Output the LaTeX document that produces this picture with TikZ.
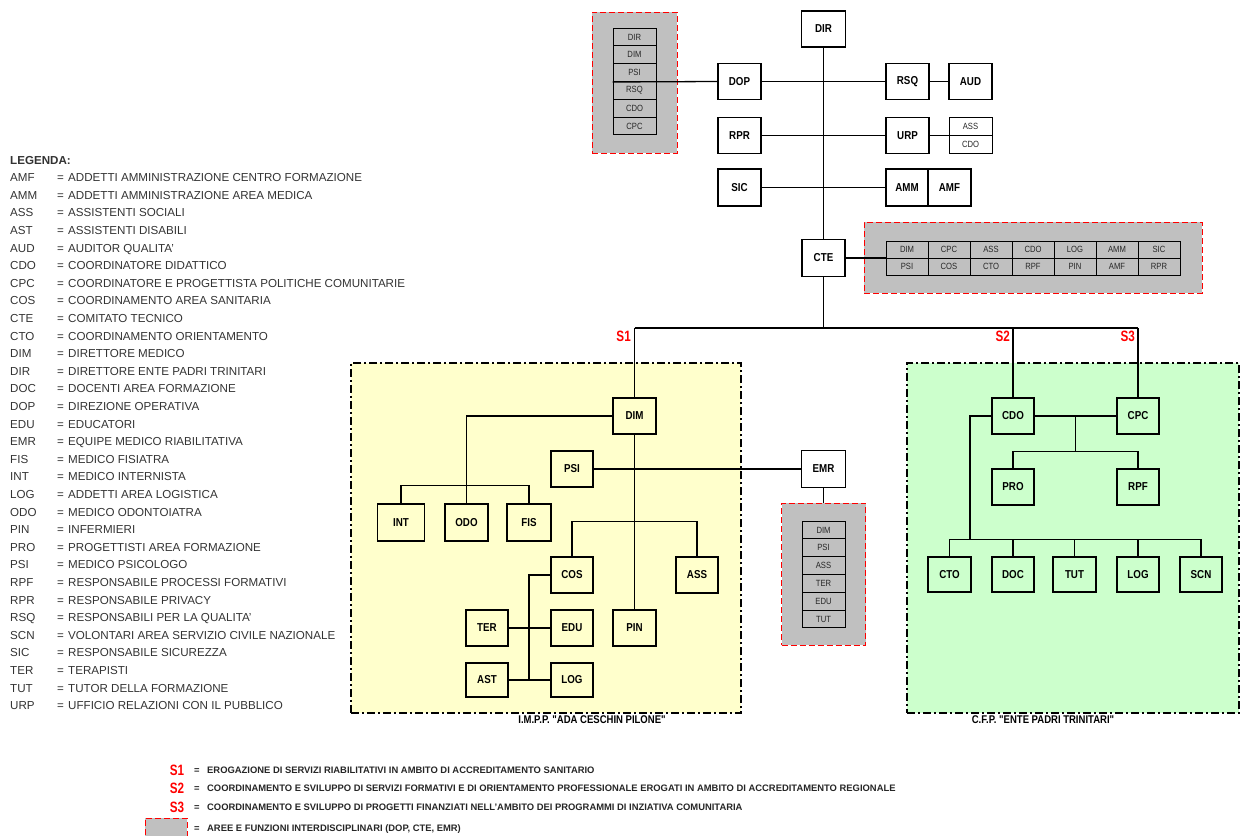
\documentclass[tikz,border=0pt]{standalone}
\usepackage{fontspec}
\setmainfont{Liberation Sans}
\newfontfamily\narrowf[FakeStretch=0.85]{Liberation Sans}
\newfontfamily\slimf[FakeStretch=0.78]{Liberation Sans}
\usetikzlibrary{calc}
\definecolor{areagray}{HTML}{C0C0C0}
\definecolor{yelfill}{HTML}{FFFFCC}
\definecolor{grnfill}{HTML}{CCFFCC}
\definecolor{sred}{HTML}{FF0000}
\newcommand\bxfont{\narrowf\bfseries\fontsize{11.5}{13}\selectfont}
\newcommand\clfont{\narrowf\fontsize{9}{10}\selectfont}
\newcommand\lgfont{\fontsize{11.6}{13}\selectfont}
\newcommand\slfont{\slimf\bfseries\fontsize{15}{16}\selectfont}
\newcommand\btfont{\bfseries\fontsize{9.4}{10}\selectfont}
\newcommand\alfont{\narrowf\bfseries\fontsize{11.2}{12}\selectfont}
\begin{document}
\begin{tikzpicture}[x=1pt,y=-1pt,
  box/.style={draw, line width=1.3pt, minimum width=43pt, minimum height=36pt, inner sep=0pt, font=\bxfont},
  cell/.style={draw, line width=1pt, minimum width=43pt, minimum height=17.8pt, inner sep=0pt, font=\clfont, text=black!85},
  gcell/.style={draw, line width=1pt, minimum width=42pt, minimum height=17pt, inner sep=0pt, font=\clfont, text=black!85},
  redarea/.style={draw=sred, dash pattern=on 6pt off 3pt, line width=1pt, fill=areagray, inner sep=0pt},
  orgarea/.style={draw=black, dash pattern=on 8pt off 3pt on 2pt off 3pt, line width=1.5pt, inner sep=0pt},
  conn/.style={draw, line width=1.3pt},
  slab/.style={text=sred, font=\slfont, inner sep=0pt},
  legab/.style={anchor=base west, inner sep=0pt, font=\lgfont, text=black!80},
  legtx/.style={anchor=base west, inner sep=0pt, font=\lgfont, text=black!80},
  bttx/.style={anchor=base west, inner sep=0pt, font=\btfont, text=black!85},
  arealab/.style={inner sep=0pt, font=\alfont}
]
\useasboundingbox (0,0) rectangle (1241,835);

% ---------- areas ----------
\node[redarea, minimum width=85pt, minimum height=141pt] (area1) at (634.5,82.5) {};
\node[redarea, minimum width=338pt, minimum height=71pt] (area2) at (1033,257.5) {};
\node[redarea, minimum width=84pt, minimum height=142pt] (area3) at (823.5,574) {};
\node[orgarea, fill=yelfill, minimum width=390pt, minimum height=350pt] (yarea) at (546,538) {};
\node[orgarea, fill=grnfill, minimum width=332pt, minimum height=350pt] (garea) at (1073,538) {};
\node[arealab] (ylab) at (592,720) {I.M.P.P. "ADA CESCHIN PILONE"};
\node[arealab] (glab) at (1043,720) {C.F.P. "ENTE PADRI TRINITARI"};

% ---------- top ----------
\node[box, minimum width=44pt] (dir) at (823.5,29) {DIR};
\node[box] (dop) at (739.5,81.5) {DOP};
\node[box] (rsq) at (907.5,81.5) {RSQ};
\node[box] (aud) at (970.5,81.5) {AUD};
\node[box] (rpr) at (739.5,135.5) {RPR};
\node[box] (urp) at (907.5,135.5) {URP};
\node[cell, minimum height=18pt] (uass) at (970.5,126.5) {ASS};
\node[cell, minimum height=18pt] (ucdo) at (970.5,144.5) {CDO};
\node[box, minimum height=37pt] (sic) at (739.5,187.5) {SIC};
\node[box, minimum width=42pt, minimum height=37pt] (amm) at (907,187.5) {AMM};
\node[box, minimum height=37pt] (amf) at (949.5,187.5) {AMF};
\node[box, minimum height=37pt] (cte) at (823.5,258) {CTE};

% stack in area1
\foreach \t [count=\i] in {DIR,DIM,PSI,RSQ,CDO,CPC}{
  \node[cell] (sa\i) at (634.5,{28+17.83*(\i-0.5)}) {\t};
}
% grid in area2
\foreach \t [count=\i] in {DIM,CPC,ASS,CDO,LOG,AMM,SIC}{
  \node[gcell] (ga\i) at ({886+42*(\i-0.5)},249.5) {\t};
}
\foreach \t [count=\i] in {PSI,COS,CTO,RPF,PIN,AMF,RPR}{
  \node[gcell] (gb\i) at ({886+42*(\i-0.5)},266.5) {\t};
}
% stack in area3
\foreach \t [count=\i] in {DIM,PSI,ASS,TER,EDU,TUT}{
  \node[cell] (sc\i) at (823.5,{521+17.83*(\i-0.5)}) {\t};
}

% ---------- yellow area ----------
\node[box] (dim1) at (634.5,416) {DIM};
\node[box, minimum width=42pt] (psi) at (572,469) {PSI};
\node[box, minimum width=47pt, minimum height=37pt] (int) at (401,522.5) {INT};
\node[box, minimum height=37pt] (odo) at (466.5,522.5) {ODO};
\node[box, minimum width=44pt, minimum height=37pt] (fis) at (529,522.5) {FIS};
\node[box, minimum width=42pt] (cos) at (572,575) {COS};
\node[box, minimum width=42pt] (ass) at (697,575) {ASS};
\node[box, minimum width=42pt] (ter) at (487,628) {TER};
\node[box, minimum width=42pt] (edu) at (572,628) {EDU};
\node[box] (pin) at (634.5,628) {PIN};
\node[box, minimum width=42pt, minimum height=34pt] (ast) at (487,680) {AST};
\node[box, minimum width=42pt, minimum height=34pt] (log1) at (572,680) {LOG};
\node[box, minimum width=44pt, minimum height=37pt] (emr) at (823.5,469) {EMR};

% ---------- green area ----------
\node[box, minimum width=42pt] (cdo) at (1013,416) {CDO};
\node[box, minimum width=42pt] (cpc) at (1138,416) {CPC};
\node[box, minimum width=42pt] (pro) at (1013,487) {PRO};
\node[box, minimum width=42pt] (rpf) at (1138,487) {RPF};
\node[box, minimum height=35pt] (cto) at (949.5,574.5) {CTO};
\node[box, minimum width=42pt, minimum height=35pt] (doc) at (1013,574.5) {DOC};
\node[box, minimum height=35pt] (tut) at (1074.5,574.5) {TUT};
\node[box, minimum width=42pt, minimum height=35pt] (log2) at (1138,574.5) {LOG};
\node[box, minimum width=42pt, minimum height=35pt] (scn) at (1201,574.5) {SCN};

% ---------- junctions ----------
\coordinate (jT) at (823.5,328);
\coordinate (jS1) at (634.5,328);
\coordinate (jS2) at (1013,328);
\coordinate (jS3) at (1138,328);
\coordinate (cosv) at (529,680);
\coordinate (cmid) at (1075.5,416);
\coordinate (pbar) at (1075.5,452);
\coordinate (cbar) at (970,540);

% ---------- connectors ----------
\draw[conn] (dir.south) -- (cte.north);
\draw[conn] (cte.south) -- (jT);
\draw[conn] (jS1) -- (jS3);
\draw[conn] (jS1) -- (dim1.north);
\draw[conn] (jS2) -- (cdo.north);
\draw[conn] (jS3) -- (cpc.north);
\draw[conn] (sa3.south west) -- (dop.west);
\draw[conn] (dop.east) -- (rsq.west);
\draw[conn] (rsq.east) -- (aud.west);
\draw[conn] (rpr.east) -- (urp.west);
\draw[conn] (urp.east) -- (urp.east -| uass.west);
\draw[conn] (sic.east) -- (amm.west);
\draw[conn] (cte.east) -- (cte.east -| gb1.west);

\draw[conn] (dim1.west) -| (odo.north);
\draw[conn] (int.north) -- ++(0,-18) -| (fis.north);
\draw[conn] (dim1.south) -- (pin.north);
\draw[conn] (psi.east) -- (emr.west);
\draw[conn] (cos.north) -- ++(0,-35) -| (ass.north);
\draw[conn] (cos.west) -| (cosv);
\draw[conn] (ter.east) -- (edu.west);
\draw[conn] (ast.east) -- (log1.west);
\draw[conn] (emr.south) -- (area3.north);

\draw[conn] (cdo.east) -- (cpc.west);
\draw[conn] (cmid) -- (pbar);
\draw[conn] (pro.north) -- ++(0,-17) -| (rpf.north);
\draw[conn] (cdo.west) -| (cbar);
\draw[conn] (cto.north) -- ++(0,-17) -| (scn.north);
\draw[conn] (doc.north) -- (doc.north |- cbar);
\draw[conn] (tut.north) -- (tut.north |- cbar);
\draw[conn] (log2.north) -- (log2.north |- cbar);

% S labels
\node[slab, anchor=north east] (s1) at (631,331) {S1};
\node[slab, anchor=north east] (s2) at (1010,331) {S2};
\node[slab, anchor=north east] (s3) at (1135,331) {S3};

% ---------- left legend ----------
\node[legab, font=\lgfont\bfseries] (legtitle) at (10,164) {LEGENDA:};
\foreach \ab/\desc [count=\i] in {
AMF/ADDETTI AMMINISTRAZIONE CENTRO FORMAZIONE,
AMM/ADDETTI AMMINISTRAZIONE AREA MEDICA,
ASS/ASSISTENTI SOCIALI,
AST/ASSISTENTI DISABILI,
AUD/AUDITOR QUALITA',
CDO/COORDINATORE DIDATTICO,
CPC/COORDINATORE E PROGETTISTA POLITICHE COMUNITARIE,
COS/COORDINAMENTO AREA SANITARIA,
CTE/COMITATO TECNICO,
CTO/COORDINAMENTO ORIENTAMENTO,
DIM/DIRETTORE MEDICO,
DIR/DIRETTORE ENTE PADRI TRINITARI,
DOC/DOCENTI AREA FORMAZIONE,
DOP/DIREZIONE OPERATIVA,
EDU/EDUCATORI,
EMR/EQUIPE MEDICO RIABILITATIVA,
FIS/MEDICO FISIATRA,
INT/MEDICO INTERNISTA,
LOG/ADDETTI AREA LOGISTICA,
ODO/MEDICO ODONTOIATRA,
PIN/INFERMIERI,
PRO/PROGETTISTI AREA FORMAZIONE,
PSI/MEDICO PSICOLOGO,
RPF/RESPONSABILE PROCESSI FORMATIVI,
RPR/RESPONSABILE PRIVACY,
RSQ/RESPONSABILI PER LA QUALITA',
SCN/VOLONTARI AREA SERVIZIO CIVILE NAZIONALE,
SIC/RESPONSABILE SICUREZZA,
TER/TERAPISTI,
TUT/TUTOR DELLA FORMAZIONE,
URP/UFFICIO RELAZIONI CON IL PUBBLICO}{
  \node[legab] (lab\i) at (10,{164+17.6*\i}) {\ab};
  \node[legab] (leq\i) at (57,{164+17.6*\i}) {=};
  \node[legtx] (ltx\i) at (68,{164+17.6*\i}) {\desc};
}

% ---------- bottom legend ----------
\node[slab] (bs1) at (177,770) {S1};
\node[slab] (bs2) at (177,788) {S2};
\node[slab] (bs3) at (177,807) {S3};
\node[redarea, minimum width=42pt, minimum height=22pt] (bga) at (166,829) {};
\foreach \yy/\t [count=\i] in {773.4/EROGAZIONE DI SERVIZI RIABILITATIVI IN AMBITO DI ACCREDITAMENTO SANITARIO,
791.4/COORDINAMENTO E SVILUPPO DI SERVIZI FORMATIVI E DI ORIENTAMENTO PROFESSIONALE EROGATI IN AMBITO DI ACCREDITAMENTO REGIONALE,
810.4/COORDINAMENTO E SVILUPPO DI PROGETTI FINANZIATI NELL'AMBITO DEI PROGRAMMI DI INZIATIVA COMUNITARIA,
831.4/{AREE E FUNZIONI INTERDISCIPLINARI (DOP, CTE, EMR)}}{
  \node[bttx] (beq\i) at (194,\yy) {=};
  \node[bttx] (btx\i) at (207,\yy) {\t};
}
\end{tikzpicture}
\end{document}
